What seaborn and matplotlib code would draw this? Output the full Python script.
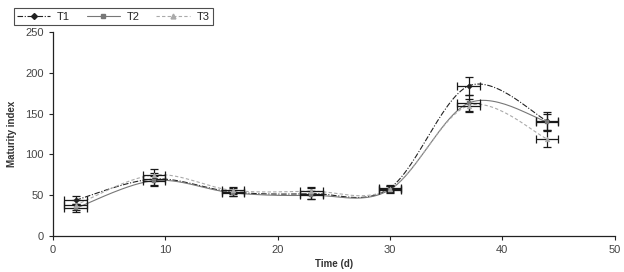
import numpy as np
import pandas as pd
import matplotlib
matplotlib.use("Agg")
import matplotlib.pyplot as plt
import seaborn as sns
from matplotlib.lines import Line2D

days = [2, 9, 16, 23, 30, 37, 44]
t1 = [44, 70, 54, 52, 59, 184, 141]
t2 = [34, 68, 53, 50, 57, 163, 140]
t3 = [38, 75, 56, 55, 58, 160, 119]
t1_err = [5, 7, 5, 7, 4, 11, 11]
t2_err = [5, 6, 4, 5, 4, 10, 10]
t3_err = [6, 7, 4, 5, 4, 8, 10]
x_err = 1.0
series_names = ["T1", "T2", "T3"]

sns.set_style("white")
plt.rcParams['font.family'] = ['Liberation Sans Narrow', 'Liberation Sans', 'DejaVu Sans']

def smooth(x, y, n=30):
    # Catmull-Rom style smoothing (like spreadsheet "smoothed line")
    x = np.asarray(x, float); y = np.asarray(y, float)
    P = np.column_stack([x, y])
    P = np.vstack([P[0], P, P[-1]])
    out = []
    for i in range(1, len(P) - 2):
        p0, p1, p2, p3 = P[i-1], P[i], P[i+1], P[i+2]
        c1 = p1 + (p2 - p0) / 6.0
        c2 = p2 - (p3 - p1) / 6.0
        t = np.linspace(0, 1, n, endpoint=(i == len(P) - 3))[:, None]
        b = (1-t)**3*p1 + 3*(1-t)**2*t*c1 + 3*(1-t)*t**2*c2 + t**3*p2
        out.append(b)
    out = np.vstack(out)
    return out[:, 0], out[:, 1]

fig = plt.figure(figsize=(6.24, 2.72), dpi=100)
ax = fig.add_axes([0.085, 0.132, 0.9, 0.75])

styles = {
    "T1": dict(color="#222222", ls=(0, (5, 1.5, 1, 1.5)), marker="D", ms=3, lw=0.8),
    "T2": dict(color="#777777", ls="-", marker="s", ms=3, lw=0.8),
    "T3": dict(color="#aaaaaa", ls=(0, (3, 2)), marker="^", ms=3.5, lw=0.8),
}
data = {"T1": (t1, t1_err), "T2": (t2, t2_err), "T3": (t3, t3_err)}

for name in series_names:
    vals, errs = data[name]
    st = styles[name]
    sx, sy = smooth(days, vals)
    df = pd.DataFrame({"x": sx, "y": sy})
    sns.lineplot(data=df, x="x", y="y", ax=ax, color=st["color"], linestyle=st["ls"],
                 lw=st["lw"], sort=False, estimator=None)
    ax.errorbar(days, vals, yerr=errs, xerr=x_err, fmt="none", ecolor="#1a1a1a",
                elinewidth=0.9, capsize=3, capthick=0.9, zorder=3)
    pts = pd.DataFrame({"x": days, "y": vals})
    sns.scatterplot(data=pts, x="x", y="y", ax=ax, marker=st["marker"], s=st["ms"]**2,
                    color=st["color"], edgecolor=st["color"], zorder=4)

ax.set_xlim(0, 50)
ax.set_ylim(0, 250)
ax.set_xticks(range(0, 51, 10))
ax.set_yticks(range(0, 251, 50))
for s in ["top", "right"]:
    ax.spines[s].set_visible(False)
for s in ["left", "bottom"]:
    ax.spines[s].set_color("#222222")
    ax.spines[s].set_linewidth(0.9)
ax.tick_params(axis="both", which="major", length=3, width=0.8, color="#222222",
               labelsize=8, labelcolor="#444444", direction="out", left=True, bottom=True)
ax.set_xlabel("Time (d)", fontsize=7, fontweight="bold", color="#333333", labelpad=3)
ax.set_ylabel("Maturity index", fontsize=7, fontweight="bold", color="#333333", labelpad=6)

handles = []
for name in series_names:
    st = styles[name]
    handles.append(Line2D([0], [0], color=st["color"], ls=st["ls"], lw=st["lw"],
                          marker=st["marker"], ms=st["ms"], mfc=st["color"], mec=st["color"]))
leg = fig.legend(handles, series_names, loc="upper left", bbox_to_anchor=(0.013, 0.99),
                 ncol=3, frameon=True, fontsize=8, handlelength=3, columnspacing=1.5,
                 borderpad=0.3, handletextpad=0.6, fancybox=False)
leg.get_frame().set_edgecolor("#222222")
leg.get_frame().set_linewidth(0.8)

fig.savefig("out.png", dpi=100)
